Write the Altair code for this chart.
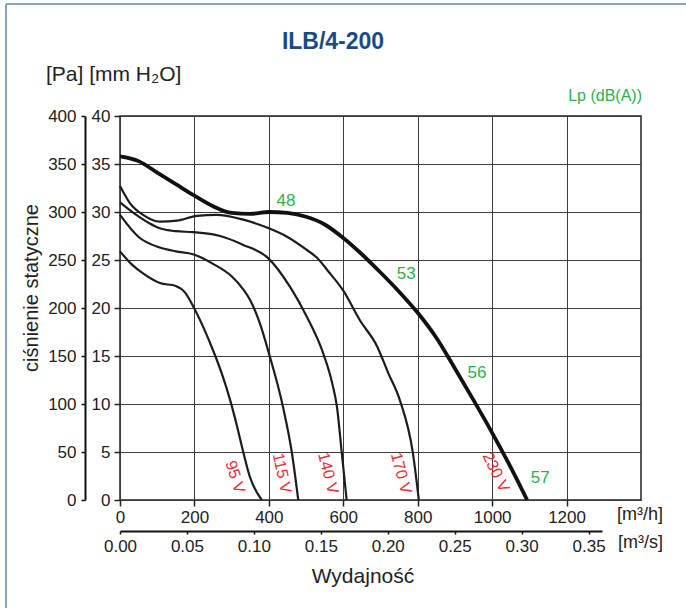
import altair as alt
import pandas as pd

# ---------------- data (flow m3/h, static pressure mm H2O) ----------------
q_230 = [0, 50, 100, 150, 200, 250, 300, 350, 400, 450, 500, 550, 600, 650, 700, 750, 800, 850, 900, 950, 1000, 1050, 1094]
p_230 = [35.8, 35.3, 34.1, 32.9, 31.7, 30.6, 29.9, 29.8, 30.0, 29.9, 29.5, 28.7, 27.3, 25.6, 23.7, 21.7, 19.5, 16.9, 13.7, 10.4, 7.0, 3.4, 0]

q_170 = [0, 27, 62, 107, 153, 207, 260, 331, 400, 450, 500, 530, 560, 600, 645, 691, 720, 752, 787, 803]
p_170 = [32.7, 30.9, 29.7, 29.0, 29.1, 29.6, 29.7, 29.2, 28.3, 27.4, 26.1, 25.2, 23.8, 21.8, 18.7, 16.0, 13.3, 10.4, 4.9, 0]

q_140 = [0, 40, 80, 107, 150, 196, 269, 330, 398, 457, 502, 543, 570, 583, 596, 609]
p_140 = [31.0, 29.8, 28.8, 28.3, 28.0, 27.9, 27.5, 26.6, 25.2, 22.2, 19.1, 15.6, 12.2, 9.7, 4.9, 0]

q_115 = [0, 50, 107, 150, 196, 250, 300, 330, 350, 375, 400, 438, 462, 479]
p_115 = [29.7, 27.4, 26.3, 25.9, 25.6, 24.6, 23.3, 22.0, 20.8, 18.5, 15.3, 9.7, 4.9, 0]

q_95 = [0, 30, 62, 107, 150, 175, 199, 225, 250, 275, 296, 315, 328, 349, 381]
p_95 = [25.9, 24.6, 23.6, 22.6, 22.3, 21.6, 20.0, 17.9, 15.6, 13.0, 10.4, 7.6, 5.5, 2.4, 0]

lp_text = ["48", "53", "56", "57"]
lp_q = [446, 769, 959, 1129]
lp_p = [31.1, 23.5, 13.2, 2.3]

volt_text = ["95 V", "115 V", "140 V", "170 V", "230 V"]
volt_q = [309, 435, 559, 755, 1010]
volt_p = [2.4, 2.8, 2.8, 2.8, 2.9]

mh_ticks = [0, 200, 400, 600, 800, 1000, 1200]
ms_ticks = [0.0, 0.05, 0.10, 0.15, 0.20, 0.25, 0.30, 0.35]
mm_ticks = [0, 5, 10, 15, 20, 25, 30, 35, 40]
pa_ticks = [0, 50, 100, 150, 200, 250, 300, 350, 400]

# ---------------- layout / style ----------------
W, H = 521, 384
LEFT, TOP = 120, 116
FONT = "Liberation Sans"
volt_angles = [72, 78, 76, 75, 64]
GREEN = "#2bb24c"
RED = "#ee2a32"
BLUE = "#174c86"
TXT = "#222"

xs = alt.Scale(domain=[0, 1400], nice=False, zero=False)
ys = alt.Scale(domain=[0, 40], nice=False, zero=False)

def curve_df(q, p, name):
    return pd.DataFrame({"q": q, "p": p, "curve": name})

thin = pd.concat([curve_df(q_170, p_170, "170"), curve_df(q_140, p_140, "140"),
                  curve_df(q_115, p_115, "115"), curve_df(q_95, p_95, "95")])
thick = curve_df(q_230, p_230, "230")

common = dict(labelFont=FONT, labelFontSize=17, labelColor=TXT, labelFlush=False,
              labelOverlap=False)

x_axis = alt.Axis(values=mh_ticks, title=None, grid=True, gridColor="#3c3c3c", gridWidth=1,
                  domain=False, ticks=True, tickSize=6, tickColor="#222", tickWidth=1.5,
                  labelPadding=3, format="d", **common)
y_axis = alt.Axis(values=mm_ticks, title=None, grid=True, gridColor="#3c3c3c", gridWidth=1,
                  domain=False, ticks=True, tickSize=6, tickColor="#222", tickWidth=1.5,
                  labelPadding=4, **common)

base_thin = alt.Chart(thin).mark_line(color="#1c1c1c", strokeWidth=2.2, interpolate="monotone").encode(
    x=alt.X("q:Q", scale=xs, axis=x_axis),
    y=alt.Y("p:Q", scale=ys, axis=y_axis),
    detail="curve:N",
    order="q:Q",
)
base_thick = alt.Chart(thick).mark_line(color="#111", strokeWidth=3.8, interpolate="monotone").encode(
    x=alt.X("q:Q", scale=xs),
    y=alt.Y("p:Q", scale=ys),
    order="q:Q",
)

lp_df = pd.DataFrame({"q": lp_q, "p": lp_p, "t": lp_text})
lp_layer = alt.Chart(lp_df).mark_text(color=GREEN, fontSize=17, font=FONT).encode(
    x=alt.X("q:Q", scale=xs), y=alt.Y("p:Q", scale=ys), text="t:N")

volt_layers = []
for t, q, p, a in zip(volt_text, volt_q, volt_p, volt_angles):
    d = pd.DataFrame({"q": [q], "p": [p], "t": [t]})
    volt_layers.append(alt.Chart(d).mark_text(color=RED, fontSize=16, font=FONT, angle=a).encode(
        x=alt.X("q:Q", scale=xs), y=alt.Y("p:Q", scale=ys), text="t:N"))

def label(txt, px, py, **kw):
    d = pd.DataFrame({"t": [txt]})
    return alt.Chart(d).mark_text(**kw).encode(
        x=alt.value(px - LEFT), y=alt.value(py - TOP), text="t:N")

texts = [
    label("ILB/4-200", 333, 42, font=FONT, fontSize=23, fontWeight="bold", color=BLUE),
    label("[Pa] [mm H\u2082O]", 46, 75, font=FONT, fontSize=21, color=TXT, align="left"),
    label("Lp (dB(A))", 642, 96, font=FONT, fontSize=16, color=GREEN, align="right"),
    label("[m\u00b3/h]", 663, 515, font=FONT, fontSize=18, color=TXT, align="right"),
    label("[m\u00b3/s]", 663, 543, font=FONT, fontSize=18, color=TXT, align="right"),
    label("Wydajno\u015b\u0107", 363, 577, font=FONT, fontSize=21, color=TXT),
    alt.Chart(pd.DataFrame({"t": ["ci\u015bnienie statyczne"]})).mark_text(
        font=FONT, fontSize=20, color=TXT, angle=270).encode(
        x=alt.value(32 - LEFT), y=alt.value(288 - TOP), text="t:N"),
]

frame = [
    alt.Chart(pd.DataFrame({"a": [0]})).mark_rule(color="#86a3c0", strokeWidth=2).encode(
        x=alt.value(6 - LEFT), y=alt.value(4 - TOP), y2=alt.value(608 - TOP)),
    alt.Chart(pd.DataFrame({"a": [0]})).mark_rule(color="#86a3c0", strokeWidth=2).encode(
        x=alt.value(6 - LEFT), x2=alt.value(686 - LEFT), y=alt.value(4 - TOP)),
]

main = alt.layer(base_thin, base_thick, lp_layer, *volt_layers, *texts, *frame)

# Pa axis (secondary, left)
pa = alt.Chart(pd.DataFrame({"v": [0, 400]})).mark_point(opacity=0).encode(
    y=alt.Y("v:Q", scale=alt.Scale(domain=[0, 400], nice=False),
            axis=alt.Axis(orient="left", offset=35, values=pa_ticks, title=None, grid=False,
                          domain=True, domainColor="#111", domainWidth=2,
                          tickSize=4, tickColor="#111", tickWidth=1.5,
                          labelPadding=5, **common)))

# m3/s axis (secondary, bottom)
ms = alt.Chart(pd.DataFrame({"v": [0, 0.36]})).mark_point(opacity=0).encode(
    x=alt.X("v:Q", scale=alt.Scale(domain=[0, 0.36], range=[0, 482], nice=False),
            axis=alt.Axis(orient="bottom", offset=31, values=ms_ticks, format=".2f", title=None,
                          grid=False, domain=True, domainColor="#111", domainWidth=2,
                          tickSize=3, tickColor="#111", tickWidth=1.5,
                          labelPadding=4, **common)))

chart = alt.layer(main, pa, ms).resolve_scale(x="independent", y="independent").properties(
    width=W, height=H,
    autosize=alt.AutoSizeParams(type="none"),
    padding={"left": LEFT, "top": TOP, "right": 686 - LEFT - W, "bottom": 608 - TOP - H},
    background="white",
).configure_view(stroke="#222", strokeWidth=1.5)

chart.save("out.html", embed_options={"renderer": "svg", "actions": False})
